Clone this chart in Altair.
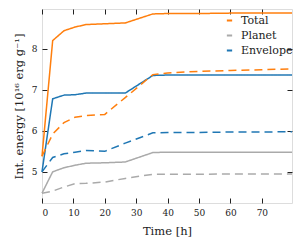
import altair as alt
import pandas as pd

times = [0, 3.4, 7, 10.5, 14, 20, 26.5, 35.3, 40, 50, 60, 70, 79.6]

total_solid = [5.38, 8.20, 8.44, 8.53, 8.59, 8.61, 8.63, 8.85, 8.86, 8.86, 8.87, 8.87, 8.87]
planet_solid = [4.48, 5.00, 5.10, 5.16, 5.21, 5.22, 5.24, 5.47, 5.48, 5.48, 5.48, 5.48, 5.48]
envelope_solid = [5.00, 6.78, 6.87, 6.88, 6.92, 6.92, 6.92, 7.35, 7.36, 7.36, 7.36, 7.36, 7.36]

total_dashed = [5.38, 5.92, 6.20, 6.33, 6.37, 6.40, 6.81, 7.37, 7.41, 7.45, 7.47, 7.49, 7.51]
planet_dashed = [4.48, 4.53, 4.63, 4.71, 4.72, 4.75, 4.84, 4.94, 4.94, 4.94, 4.95, 4.95, 4.95]
envelope_dashed = [5.00, 5.35, 5.44, 5.48, 5.52, 5.50, 5.70, 5.95, 5.96, 5.96, 5.97, 5.97, 5.98]

components = ["Total", "Planet", "Envelope"]
colors = ["#ff7f0e", "#aaaaaa", "#1f77b4"]

rows = []
series = {
    ("Total", "solid"): total_solid,
    ("Planet", "solid"): planet_solid,
    ("Envelope", "solid"): envelope_solid,
    ("Total", "dashed"): total_dashed,
    ("Planet", "dashed"): planet_dashed,
    ("Envelope", "dashed"): envelope_dashed,
}
for (comp, style), vals in series.items():
    for t, v in zip(times, vals):
        rows.append({"t": t, "E": v, "component": comp, "style": style,
                     "key": comp + "-" + style})
df = pd.DataFrame(rows)

FONT = "DejaVu Serif"
xscale = alt.Scale(domain=[0, 79.6], nice=False, zero=False)
yscale = alt.Scale(domain=[4.24, 8.97], nice=False, zero=False)

lines = alt.Chart(df).mark_line(strokeWidth=1.5).encode(
    x=alt.X("t:Q", scale=xscale,
            axis=alt.Axis(title="Time [h]", values=[0, 10, 20, 30, 40, 50, 60, 70],
                          orient="bottom", grid=False, domain=False,
                          offset=-5, tickSize=5, tickColor="#222",
                          labelPadding=5, labelFontSize=9, labelFont=FONT,
                          labelColor="#222", titleFont=FONT, titleFontSize=11.5,
                          titleFontWeight="normal", titleColor="#222",
                          titlePadding=8)),
    y=alt.Y("E:Q", scale=yscale,
            axis=alt.Axis(title="Int. energy [10¹⁶ erg g⁻¹]", values=[5, 6, 7, 8],
                          orient="left", grid=False, domain=False,
                          offset=-5, tickSize=5, tickColor="#222",
                          labelPadding=5, labelFontSize=9, labelFont=FONT,
                          labelColor="#222", titleFont=FONT, titleFontSize=11.5,
                          titleFontWeight="normal", titleColor="#222",
                          titlePadding=7)),
    color=alt.Color("component:N",
                    scale=alt.Scale(domain=components, range=colors),
                    sort=components,
                    legend=alt.Legend(title=None, orient="none", legendX=182, legendY=6,
                                      symbolType="stroke", symbolSize=28,
                                      symbolStrokeWidth=2, symbolDash=[1, 0],
                                      labelFont=FONT,
                                      labelFontSize=11, labelColor="#222",
                                      labelOffset=6, rowPadding=3, padding=0)),
    strokeDash=alt.StrokeDash("style:N",
                              scale=alt.Scale(domain=["solid", "dashed"],
                                              range=[[1, 0], [8, 5]]),
                              legend=None),
    detail="key:N",
)

frame = alt.Chart(df).mark_line(opacity=0).encode(
    x=alt.X("t:Q", scale=xscale,
            axis=alt.Axis(title=None, values=[0, 10, 20, 30, 40, 50, 60, 70],
                          orient="top", grid=False, domain=False, labels=False,
                          offset=-5, tickSize=5, tickColor="#222")),
    y=alt.Y("E:Q", scale=yscale,
            axis=alt.Axis(title=None, values=[5, 6, 7, 8],
                          orient="right", grid=False, domain=False, labels=False,
                          offset=-5, tickSize=5, tickColor="#222")),
    detail="key:N",
)

chart = alt.layer(lines, frame).resolve_axis(x="independent", y="independent").properties(
    width=250, height=194,
    autosize=alt.AutoSizeParams(type="none"),
    padding={"left": 34, "top": 1, "right": 2, "bottom": 40},
).configure_view(stroke="#222", strokeWidth=1.2).configure(background="white")

chart.save("out.html", embed_options={"renderer": "svg", "actions": False})
